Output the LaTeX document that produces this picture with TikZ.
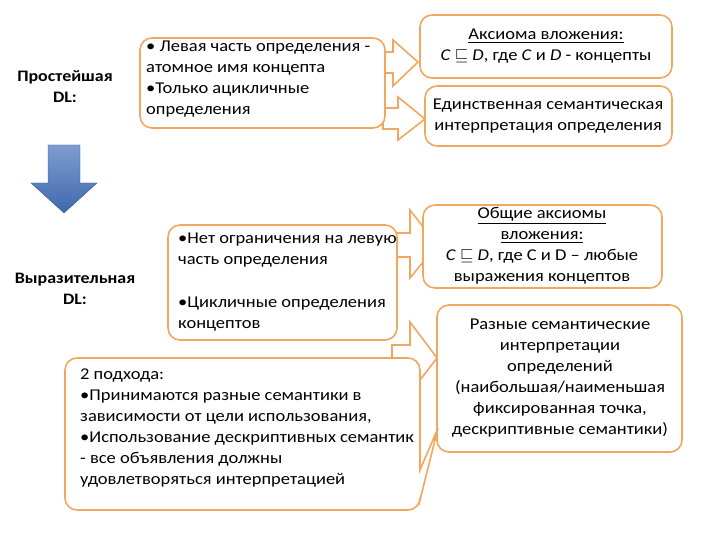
\documentclass[tikz,border=0pt]{standalone}
\usepackage{fontspec}
\usepackage{amssymb}
\setmainfont{Carlito}[FakeStretch=1.12]
\definecolor{org}{RGB}{240,168,96}
\definecolor{blu}{RGB}{70,115,190}
\tikzset{
 box/.style={draw=org,line width=1.6pt,rounded corners=12pt,fill=white},
 txt/.style={font=\fontsize{16.5}{21}\selectfont,align=left,anchor=north west,inner sep=0pt},
 ctxt/.style={font=\fontsize{16.5}{21}\selectfont,align=center,inner sep=0pt},
 barrow/.style={draw=org,line width=1.6pt,fill=white,line join=miter},
}
\newcommand{\sq}{\textit{C} $\sqsubseteq$ \textit{D}}
\begin{document}
\begin{tikzpicture}[x=1pt,y=-1pt]
\useasboundingbox (0,0) rectangle (720,540);
% labels
\node[ctxt,font=\fontsize{16}{21}\selectfont\bfseries] (l1) at (65,87) {Простейшая\\DL:};
\node[ctxt,font=\fontsize{16}{21}\selectfont\bfseries] (l2) at (75,289) {Выразительная\\DL:};
% blue arrow
\shade[top color=blu!70!white,bottom color=blu!90!black,draw=blu!80!black] (48,145) -- (80,145) -- (80,183) -- (97,183) -- (64,213) -- (31,183) -- (48,183) -- cycle;
% block arrows
\draw[barrow] (378,52) -- (393,52) -- (393,40) -- (418,62) -- (393,86) -- (393,73) -- (378,73) -- cycle;
\draw[barrow] (383,108) -- (398,108) -- (398,97) -- (425,119) -- (398,140) -- (398,129) -- (383,129) -- cycle;
\draw[barrow] (392,233) -- (410,233) -- (410,210) -- (437,245) -- (410,278) -- (410,257) -- (392,257) -- cycle;
\draw[barrow] (392,345) -- (410,345) -- (410,322) -- (437,358) -- (410,393) -- (410,372) -- (392,372) -- cycle;
% boxes
\draw[box] (140,38) rectangle (385,128);
\node[txt] (t1) at (146,41) {• Левая часть определения -\\атомное имя концепта\\•Только ацикличные\\определения};
\draw[box] (420,15) rectangle (672,78);
\node[ctxt] (t2) at (546,46) {\underline{Аксиома вложения:}\\\sq, где \textit{C} и \textit{D} - концепты};
\draw[box] (425,86) rectangle (672,146);
\node[ctxt] (t3) at (548,116) {Единственная семантическая\\интерпретация определения};
\draw[box] (168,225) rectangle (397,340);
\node[txt] (t4) at (178,233) {•Нет ограничения на левую\\часть определения\\[22pt]•Цикличные определения\\концептов};
\draw[box] (423,205) rectangle (662,288);
\node[ctxt] (t5) at (542,246) {\underline{Общие аксиомы}\\\underline{вложения:}\\\sq, где C и D – любые\\выражения концептов};
\draw[box] (437,305) rectangle (682,452);
\node[ctxt] (t6) at (560,378) {Разные семантические\\интерпретации\\определений\\(наибольшая/наименьшая\\фиксированная точка,\\дескриптивные семантики)};
\draw[box] (65,358) -- (420,358) -- (420,400) [sharp corners] -- (420,470) -- (438,428) -- (420,500) [rounded corners=12pt] -- (420,510) -- (65,510) -- cycle;
\node[txt] (t7) at (80,369) {2 подхода:\\•Принимаются разные семантики в\\зависимости от цели использования,\\•Использование дескриптивных семантик\\- все объявления должны\\удовлетворяться интерпретацией};
\end{tikzpicture}
\end{document}
